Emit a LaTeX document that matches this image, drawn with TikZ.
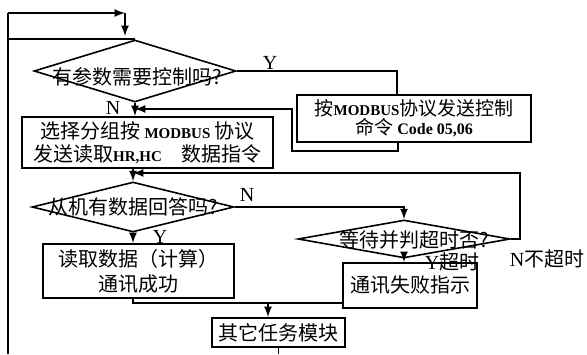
\documentclass[tikz,border=0pt]{standalone}
\usepackage{fontspec}
\setmainfont{Noto Sans CJK SC}
\newfontfamily\latinfont{Liberation Serif}
\usetikzlibrary{shapes.geometric}
\newcommand{\bfen}[2][7.5]{{\latinfont\fontsize{#1}{#1}\selectfont\bfseries #2}}

\begin{document}
\begin{tikzpicture}[x=0.5pt, y=-0.5pt,
					block/.style={rectangle, draw=black, line width=1pt, align=center, inner sep=0pt, font=\fontsize{10}{11.5}\selectfont},
					decision/.style={diamond, draw=black, line width=0.8pt, inner sep=0pt},
					caption/.style={inner sep=0pt, font=\fontsize{10}{12}\selectfont},
					tag/.style={inner sep=0pt, font=\latinfont\fontsize{10}{12}\selectfont}
				]
				\useasboundingbox (0,0) rectangle (587,354);
				\node[decision, minimum width=101pt, minimum height=31pt] (ask) at (135,71) {};
				\node[caption] (asktext) at (137,77) {有参数需要控制吗?};
				\node[block, minimum width=117pt, minimum height=23.5pt, font=\fontsize{9.5}{9.5}\selectfont] (command) at (414,118.5) {按\bfen{MODBUS}协议发送控制\\命令 \bfen[8]{Code 05,06}};
				\node[block, minimum width=125.5pt, minimum height=25.5pt] (setup) at (147.5,142.5) {选择分组按 \bfen{MODBUS} 协议\\发送读取\bfen{HR,HC}\quad 数据指令};
				\node[decision, minimum width=101pt, minimum height=25pt] (reply) at (133,207) {};
				\node[caption] (replytext) at (133,207) {从机有数据回答吗?};
				\node[block, minimum width=95.5pt, minimum height=27pt, font=\fontsize{10}{12.5}\selectfont] (read) at (138.5,271) {读取数据（计算）\\通讯成功};
				\node[decision, minimum width=106pt, minimum height=19pt] (wait) at (404,239) {};
				\node[caption] (waittext) at (414,240) {等待并判超时否?};
				\node[block, minimum width=67pt, minimum height=22.5pt] (fail) at (410,285.5) {通讯失败指示};
				\node[block, minimum width=66.5pt, minimum height=14.5pt] (other) at (278.5,332.5) {其它任务模块};
				\node[tag] (askyes) at (270,63) {Y};
				\node[tag] (askno) at (113,108) {N};
				\node[tag] (replyno) at (247,195) {N};
				\node[tag] (replyyes) at (160,237) {Y};
				\node[tag] (waityes) at (452,262) {Y\normalfont 超时};
				\node[tag] (waitno) at (547,259) {N\normalfont 不超时};
				\coordinate (loopbottom) at (8,354);
				\coordinate (looptop) at (8,13);
				\coordinate (loopentry) at (125,13);
				\coordinate (loopjoin) at (ask.north -| looptop);
				\coordinate (cmdturn) at (292,109);
				\coordinate (cmdback) at (ask.south |- cmdturn);
				\coordinate (waitback) at (reply.north |- 0,173);
				\coordinate (readjoin) at (268,303);
				\begin{scope}[line width=0.8pt]
				\draw (loopbottom) -- (looptop);
				\draw (loopjoin) -- (ask.north);
				\draw (ask.east) -| ([xshift=-8.5pt]command.north);
				\draw (reply.south |- read.south) |- ([yshift=-8.75pt]fail.west);
				\draw (other.south) -- (other.south |- loopbottom);
				\end{scope}
				\begin{scope}[line width=0.8pt, -latex]
				\draw (looptop) -- (loopentry);
				\draw (loopentry) -- ++(0,23);
				\draw ([xshift=-8pt]command.south) -- ++(0,8) -| (cmdturn) -- (cmdback);
				\draw (ask.south) -- (ask.south |- setup.north);
				\draw (reply.north |- setup.south) -- (reply.north);
				\draw (wait.east) -- ++(9,0) |- (waitback);
				\draw (reply.east) -| (wait.north);
				\draw (reply.south) -- (reply.south |- read.north);
				\draw (wait.south) -- (wait.south |- fail.north);
				\draw (readjoin) -- (readjoin |- other.north);
				\end{scope}
				\end{tikzpicture}
\end{document}
